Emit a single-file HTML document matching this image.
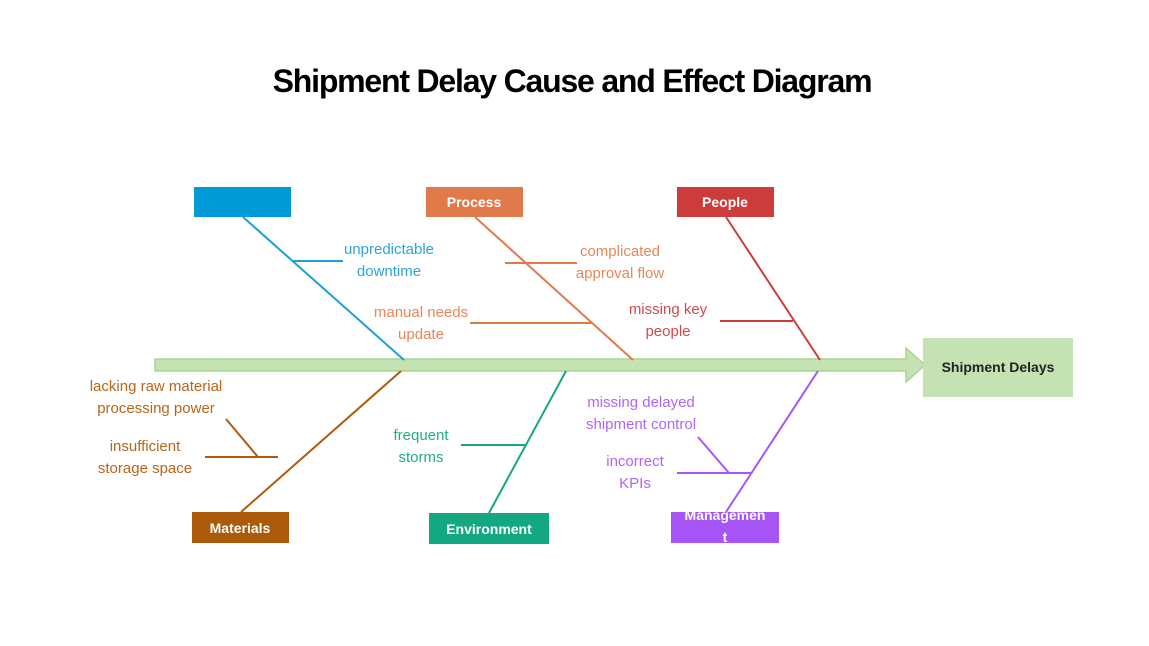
<!DOCTYPE html>
<html><head><meta charset="utf-8"><style>
body{margin:0;background:#fff;}
svg{display:block;font-family:"Liberation Sans",Arial,sans-serif;}
</style></head><body>
<svg width="1149" height="646" viewBox="0 0 1149 646" xmlns="http://www.w3.org/2000/svg">
<text x="572" y="92" text-anchor="middle" font-size="32" font-weight="bold" letter-spacing="-1.2" fill="#000">Shipment Delay Cause and Effect Diagram</text>
<polygon points="155,359 906,359 906,348 925,365 906,382 906,371 155,371" fill="#c5e3b2" stroke="#a8d590" stroke-width="1.5"/>
<rect x="923" y="338" width="150" height="59" fill="#c5e3b2"/>
<text x="998" y="372" text-anchor="middle" font-size="14" font-weight="bold" fill="#222">Shipment Delays</text>
<g stroke-width="2" fill="none">
<line x1="243" y1="217" x2="404" y2="360" stroke="#1a9fd9"/>
<line x1="292" y1="261" x2="343" y2="261" stroke="#1a9fd9"/>
<line x1="475" y1="217" x2="633" y2="360" stroke="#e07a4a"/>
<line x1="505" y1="263" x2="577" y2="263" stroke="#e07a4a"/>
<line x1="470" y1="323" x2="592" y2="323" stroke="#e07a4a"/>
<line x1="726" y1="217" x2="820" y2="360" stroke="#cc3c3c"/>
<line x1="720" y1="321" x2="793" y2="321" stroke="#cc3c3c"/>
<line x1="401" y1="371" x2="241" y2="512" stroke="#b05a0c"/>
<line x1="226" y1="419" x2="258" y2="457" stroke="#b05a0c"/>
<line x1="205" y1="457" x2="278" y2="457" stroke="#b05a0c"/>
<line x1="566" y1="371" x2="489" y2="513" stroke="#14a882"/>
<line x1="461" y1="445" x2="525" y2="445" stroke="#14a882"/>
<line x1="818" y1="371" x2="726" y2="512" stroke="#a855f7"/>
<line x1="698" y1="437" x2="729" y2="473" stroke="#a855f7"/>
<line x1="677" y1="473" x2="752" y2="473" stroke="#a855f7"/>
</g>
<rect x="194" y="187" width="97" height="30" fill="#009bd6"/>
<rect x="426" y="187" width="97" height="30" fill="#e07a4a"/>
<text x="474" y="207" text-anchor="middle" font-size="14" font-weight="bold" fill="#fff">Process</text>
<rect x="677" y="187" width="97" height="30" fill="#cc3c3c"/>
<text x="725" y="207" text-anchor="middle" font-size="14" font-weight="bold" fill="#fff">People</text>
<rect x="192" y="512" width="97" height="31" fill="#ab5a0a"/>
<text x="240" y="533" text-anchor="middle" font-size="14" font-weight="bold" fill="#fff">Materials</text>
<rect x="429" y="513" width="120" height="31" fill="#14a882"/>
<text x="489" y="534" text-anchor="middle" font-size="14" font-weight="bold" fill="#fff">Environment</text>
<svg x="671" y="512" width="108" height="31">
<rect width="108" height="31" fill="#a855f7"/>
<text x="54" y="8" text-anchor="middle" font-size="14" font-weight="bold" fill="#fff">Managemen</text>
<text x="54" y="30" text-anchor="middle" font-size="14" font-weight="bold" fill="#fff">t</text>
</svg>
<g font-size="15" text-anchor="middle">
<text x="389" y="254" fill="#2aa6dc">unpredictable</text>
<text x="389" y="276" fill="#2aa6dc">downtime</text>
<text x="620" y="256" fill="#e8875a">complicated</text>
<text x="620" y="278" fill="#e8875a">approval flow</text>
<text x="421" y="317" fill="#e8875a">manual needs</text>
<text x="421" y="339" fill="#e8875a">update</text>
<text x="668" y="314" fill="#d04a4a">missing key</text>
<text x="668" y="336" fill="#d04a4a">people</text>
<text x="156" y="391" fill="#b8661a">lacking raw material</text>
<text x="156" y="413" fill="#b8661a">processing power</text>
<text x="145" y="451" fill="#b8661a">insufficient</text>
<text x="145" y="473" fill="#b8661a">storage space</text>
<text x="421" y="440" fill="#1fae88">frequent</text>
<text x="421" y="462" fill="#1fae88">storms</text>
<text x="641" y="407" fill="#b064f7">missing delayed</text>
<text x="641" y="429" fill="#b064f7">shipment control</text>
<text x="635" y="466" fill="#b064f7">incorrect</text>
<text x="635" y="488" fill="#b064f7">KPIs</text>
</g>
</svg>
</body></html>
